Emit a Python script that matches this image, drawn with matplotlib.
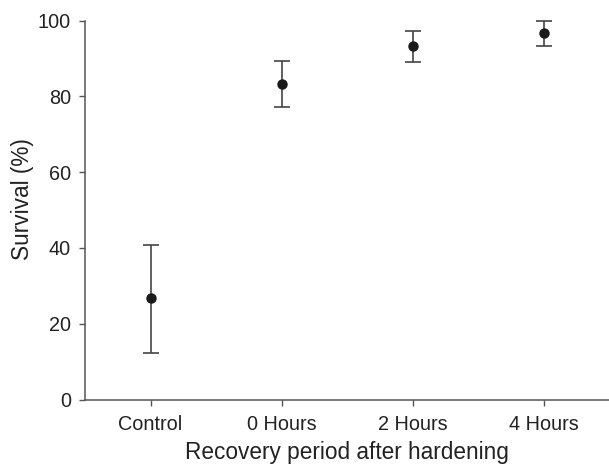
import matplotlib
matplotlib.use("Agg")
import matplotlib.pyplot as plt

# data
groups = ["Control", "0 Hours", "2 Hours", "4 Hours"]
survival = [26.9, 83.4, 93.4, 96.7]
err_low = [12.4, 77.1, 89.0, 93.2]
err_high = [40.8, 89.3, 97.4, 99.8]

plt.rcParams['font.family'] = ['Liberation Sans', 'DejaVu Sans']

fig = plt.figure(figsize=(6.09, 4.66), dpi=100)
ax = fig.add_axes([85/609, 1 - 399.5/466, 1 - 85/609, (399.5 - 20.7)/466])

x = list(range(len(groups)))
lower = [s - l for s, l in zip(survival, err_low)]
upper = [h - s for s, h in zip(survival, err_high)]
ax.errorbar(x, survival, yerr=[lower, upper], fmt='o', color='#1a1a1a',
            ecolor='#444444', elinewidth=1.2, capsize=6, capthick=1.2,
            markersize=6.5, clip_on=False)

ax.set_xlim(-0.5, 3.5)
ax.set_ylim(0, 100)
ax.set_xticks(x)
ax.set_xticklabels(groups)
ax.set_yticks(range(0, 101, 20))
ax.tick_params(labelsize=14.3, length=4, width=1, color='#555555', colors='#222222')
ax.tick_params(axis='x', pad=7)
ax.tick_params(axis='y', pad=6)

for side in ['top', 'right']:
    ax.spines[side].set_visible(False)
for side in ['left', 'bottom']:
    ax.spines[side].set_color('#555555')
    ax.spines[side].set_linewidth(1.1)

ax.set_xlabel("Recovery period after hardening", fontsize=16.3, color='#222222', labelpad=5)
ax.set_ylabel("Survival (%)", fontsize=16.3, color='#222222')
ax.yaxis.set_label_coords(-0.097, 0.53)

fig.savefig("out.png", dpi=100)
